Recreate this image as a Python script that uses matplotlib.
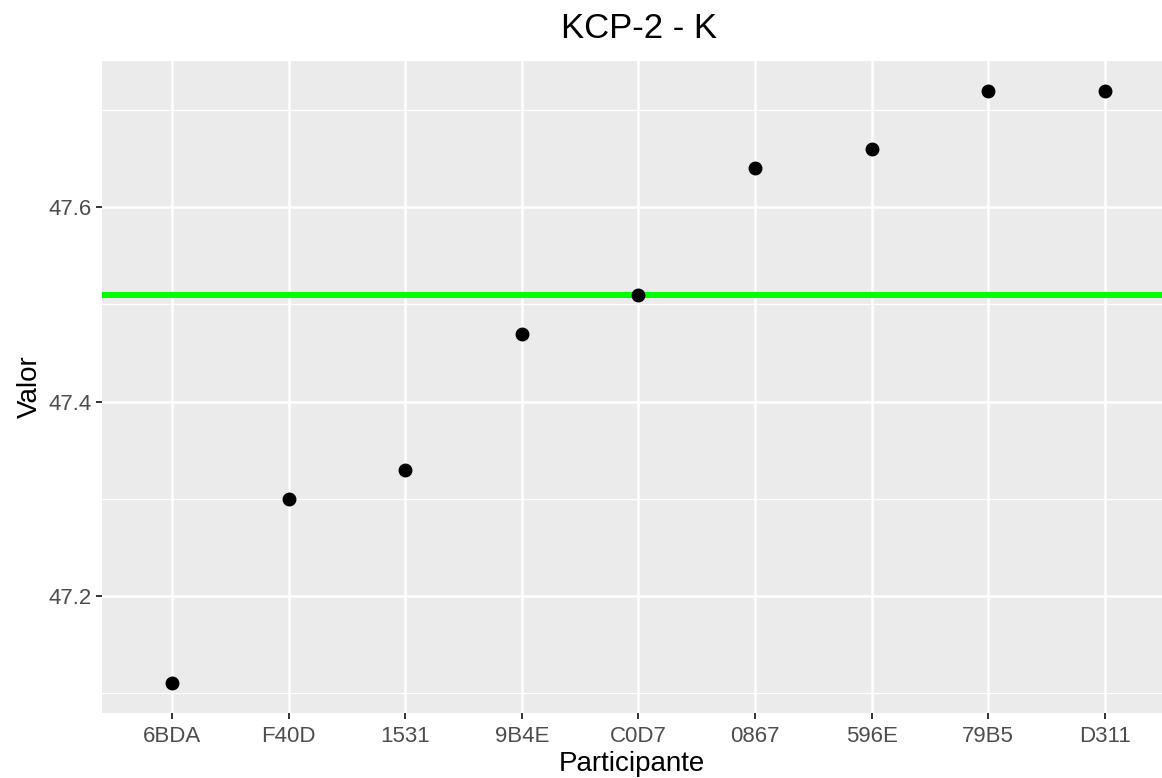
import matplotlib.pyplot as plt
from matplotlib.ticker import MultipleLocator

plt.rcParams['font.family'] = ['Liberation Sans', 'DejaVu Sans']

participantes = ["6BDA", "F40D", "1531", "9B4E", "C0D7", "0867", "596E", "79B5", "D311"]
valores = [47.11, 47.30, 47.33, 47.47, 47.51, 47.64, 47.66, 47.72, 47.72]
referencia = 47.51

fig = plt.figure(figsize=(11.62, 7.78), dpi=100)
ax = fig.add_axes([102 / 1162, 65 / 778, 1 - 102 / 1162, (713 - 61) / 778])
ax.set_facecolor('#EBEBEB')
for s in ax.spines.values():
    s.set_visible(False)

x = list(range(len(participantes)))
ax.axhline(referencia, color='#00FF00', lw=4.3, zorder=2)
ax.plot(x, valores, 'o', color='black', markersize=9, zorder=3)

ax.set_xlim(-0.6, 8.49)
ax.set_ylim(47.0795, 47.7505)
ax.set_xticks(x)
ax.set_xticklabels(participantes)
ax.yaxis.set_minor_locator(MultipleLocator(0.1))
ax.set_yticks([47.2, 47.4, 47.6])
ax.set_yticklabels(["47.2", "47.4", "47.6"])

ax.grid(which='major', color='white', lw=1.8, zorder=1)
ax.grid(which='minor', axis='y', color='white', lw=0.9, zorder=1)
ax.set_axisbelow(True)
ax.tick_params(which='major', length=4.3, width=1.4, color='#333333',
               labelcolor='#4D4D4D', labelsize=16, pad=3)
ax.tick_params(axis='x', which='major', pad=5)
ax.tick_params(which='minor', length=0)

ax.set_xlabel("Participante", fontsize=20, labelpad=3)
ax.set_ylabel("Valor", fontsize=20, labelpad=4)
fig.text(639 / 1162, 1 - 29 / 778, "KCP-2 - K", fontsize=25, ha='center', va='center')

fig.savefig("out.png", dpi=100)
